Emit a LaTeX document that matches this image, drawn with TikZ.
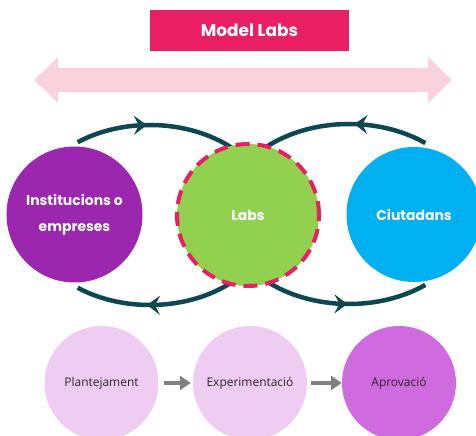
\documentclass[tikz,border=0pt]{standalone}
\usepackage{fontspec}
\setmainfont{Open Sans}
\newfontfamily\geo{Poppins}
\usetikzlibrary{arrows.meta,decorations.markings}
\definecolor{titlepink}{RGB}{233,30,99}
\definecolor{lightpink}{RGB}{250,210,222}
\definecolor{purp}{RGB}{155,39,175}
\definecolor{labgreen}{RGB}{146,208,80}
\definecolor{cyanb}{RGB}{0,176,240}
\definecolor{teal}{RGB}{13,72,82}
\definecolor{lav}{RGB}{239,205,243}
\definecolor{orchid}{RGB}{207,107,222}
\definecolor{grayarrow}{RGB}{128,128,128}
\definecolor{txt}{RGB}{38,38,38}
\tikzset{
  bigcirc/.style={circle,inner sep=0pt,text=white,font=\geo\bfseries\fontsize{14}{26}\selectfont,align=center},
  stagecirc/.style={circle,inner sep=0pt,minimum size=114bp,text=txt,font=\fontsize{12}{14}\selectfont},
  cyclearc/.style={draw=teal,line width=4.5bp},
  tipat/.style={postaction={decorate,decoration={markings,mark=at position #1 with {\arrow{Stealth[length=13bp,width=19bp,inset=5bp]}}}}},
  grayarr/.style={draw=grayarrow,line width=4.5bp,-{Triangle[length=11bp,width=14bp]}}
}
\begin{document}
\begin{tikzpicture}[x=1bp,y=1bp]
\useasboundingbox (0,0) rectangle (476,436);
% title
\node[fill=titlepink,minimum width=199bp,minimum height=41bp,inner sep=0pt,text=white,font=\geo\bfseries\fontsize{17}{18}\selectfont] (title) at (249.5,405.5) {Model Labs};
% double arrow
\fill[lightpink] (34,356) -- (58,379) -- (58,368) -- (428,368) -- (428,379) -- (452,356) -- (428,333) -- (428,344) -- (58,344) -- (58,333) -- cycle;
% cycle arcs
\coordinate (lc) at (150,221);
\coordinate (rc) at (349,222);
\draw[cyclearc,tipat=0.43] (lc) ++(126:123 and 90) arc[start angle=126,end angle=45,x radius=123,y radius=90];
\draw[cyclearc,tipat=0.57] (lc) ++(-45:123 and 90) arc[start angle=-45,end angle=-126,x radius=123,y radius=90];
\draw[cyclearc,tipat=0.43] (rc) ++(52:124 and 90) arc[start angle=52,end angle=135,x radius=124,y radius=90];
\draw[cyclearc,tipat=0.53] (rc) ++(-135:124 and 90) arc[start angle=-135,end angle=-52,x radius=124,y radius=90];
% main circles
\node[bigcirc,fill=purp,minimum size=136bp] (inst) at (74.5,221.5) {Institucions o\\empreses};
\node[bigcirc,fill=labgreen,minimum size=142bp] (labs) at (248,221) {Labs};
\draw[titlepink,line width=4bp,dash pattern=on 14bp off 8bp] (labs.center) circle[radius=71bp];
\node[bigcirc,fill=cyanb,minimum size=135bp] (ciut) at (414,221.5) {Ciutadans};
% stages
\node[stagecirc,fill=lav] (p1) at (101.5,53) {Plantejament};
\node[stagecirc,fill=lav] (p2) at (250,53) {Experimentació};
\node[stagecirc,fill=orchid] (p3) at (399,53) {Aprovació};
\draw[grayarr,shorten <=5bp,shorten >=2bp] (p1) -- (p2);
\draw[grayarr,shorten <=4bp,shorten >=0bp] (p2) -- (p3);
\end{tikzpicture}
\end{document}
